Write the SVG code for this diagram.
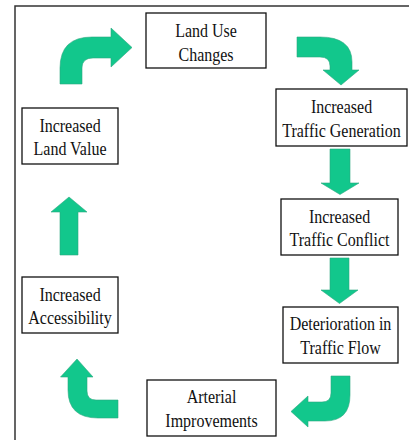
<svg xmlns="http://www.w3.org/2000/svg" width="409" height="440" viewBox="0 0 409 440">
<style>
.box{fill:#fff;stroke:#111;stroke-width:1.3}
.t{font-family:"Liberation Serif","Times New Roman",serif;font-size:16px;fill:#111;text-anchor:middle}
.arr{fill:#12C78C;stroke:#2EA880;stroke-width:0.6;stroke-linejoin:round}
</style>
<rect width="409" height="440" fill="#fff"/>
<path d="M15,440 L15,6 L409,6" fill="none" stroke="#333" stroke-width="1.5"/>
<g id="connectors">
<path class="arr" d="M60,84 L60,68 Q60,37 92,37 L111,37 L111,28 L132,47.5 L111,67 L111,58 L93,58 Q82,58 82,68 L82,84 Z"/>
<path class="arr" d="M297,37 L320,37 Q352,37 352,62 L352,70 L359,70 L341,85 L323,70 L330,70 L330,66 Q330,57 320,57 L297,57 Z"/>
<path class="arr" d="M330,149 L350,149 L350,183 L359,183 L340,194.5 L321,183 L330,183 Z"/>
<path class="arr" d="M330,258 L349,258 L349,290 L358,290 L339.5,303.5 L321,290 L330,290 Z"/>
<path class="arr" d="M60,255 L78,255 L78,212 L87,212 L69,197 L51,212 L60,212 Z"/>
<path class="arr" d="M331,376 L350,376 L350,395 Q350,421 325,421 L308,421 L308,427 L291,411.5 L308,396 L308,402 L322,402 Q331,402 331,393 Z"/>
<path class="arr" d="M118,400 L96,400 Q87,400 87,391 L87,377 L93,377 L77,359 L60.5,377 L68,377 L68,390 Q68,418 98,418 L118,418 Z"/>
</g>
<g id="land-use-changes">
<rect class="box" x="146" y="13" width="120" height="55"/>
<text class="t" transform="translate(206,37) scale(1,1.2)">Land Use</text>
<text class="t" transform="translate(206,60.5) scale(1,1.2)">Changes</text>
</g>
<g id="increased-traffic-generation">
<rect class="box" x="276" y="89" width="131" height="57"/>
<text class="t" transform="translate(341.5,113) scale(1,1.2)">Increased</text>
<text class="t" transform="translate(341.5,137) scale(1,1.2)">Traffic Generation</text>
</g>
<g id="increased-land-value">
<rect class="box" x="22" y="108" width="96" height="56"/>
<text class="t" transform="translate(70,131.5) scale(1,1.2)">Increased</text>
<text class="t" transform="translate(70,155) scale(1,1.2)">Land Value</text>
</g>
<g id="increased-traffic-conflict">
<rect class="box" x="281" y="199" width="117" height="56"/>
<text class="t" transform="translate(339.5,223) scale(1,1.2)">Increased</text>
<text class="t" transform="translate(339.5,246) scale(1,1.2)">Traffic Conflict</text>
</g>
<g id="increased-accessibility">
<rect class="box" x="22" y="277" width="96" height="56"/>
<text class="t" transform="translate(70,300.5) scale(1,1.2)">Increased</text>
<text class="t" transform="translate(70,324) scale(1,1.2)">Accessibility</text>
</g>
<g id="deterioration-in-traffic-flow">
<rect class="box" x="283" y="307" width="115" height="56"/>
<text class="t" transform="translate(340.5,330) scale(1,1.2)">Deterioration in</text>
<text class="t" transform="translate(340.5,353.5) scale(1,1.2)">Traffic Flow</text>
</g>
<g id="arterial-improvements">
<rect class="box" x="147" y="380" width="129" height="56"/>
<text class="t" transform="translate(211.5,403) scale(1,1.2)">Arterial</text>
<text class="t" transform="translate(211.5,427) scale(1,1.2)">Improvements</text>
</g>
</svg>
